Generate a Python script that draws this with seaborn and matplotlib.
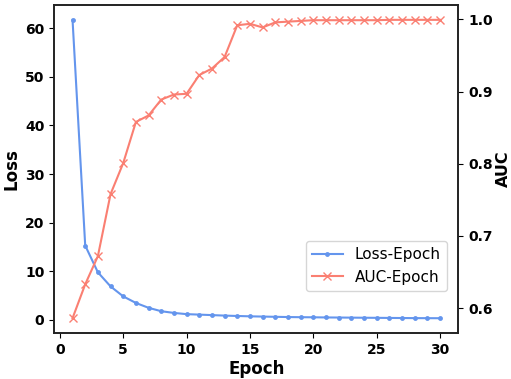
import matplotlib
matplotlib.use("Agg")
import matplotlib.pyplot as plt
import seaborn as sns
import pandas as pd

epochs = list(range(1, 31))
loss = [61.7, 15.3, 9.8, 6.9, 4.85, 3.5, 2.5, 1.8, 1.45, 1.2,
        1.1, 1.0, 0.9, 0.82, 0.75, 0.7, 0.65, 0.6, 0.57, 0.55,
        0.52, 0.5, 0.48, 0.46, 0.44, 0.42, 0.4, 0.38, 0.37, 0.36]
auc = [0.586, 0.633, 0.672, 0.758, 0.801, 0.858, 0.867, 0.889, 0.896, 0.897,
       0.923, 0.932, 0.948, 0.992, 0.994, 0.989, 0.996, 0.997, 0.998, 0.999,
       0.999, 0.999, 0.999, 0.999, 0.999, 0.9995, 0.9995, 0.9995, 0.9995, 0.9995]

df = pd.DataFrame({"Epoch": epochs, "Loss": loss, "AUC": auc})

plt.rcParams["font.family"] = ["DejaVu Sans"]

fig = plt.figure(figsize=(5.11, 3.79), dpi=100)
ax = fig.add_axes([0.106, 0.121, 0.791, 0.866])
ax2 = ax.twinx()

blue = "#6495ED"
red = "#FA7F72"
sns.lineplot(data=df, x="Epoch", y="Loss", ax=ax, color=blue, marker=".", markersize=7,
             markeredgewidth=0, linewidth=1.5, label="Loss-Epoch", legend=False)
sns.lineplot(data=df, x="Epoch", y="AUC", ax=ax2, color=red, marker="x", markersize=6,
             markeredgecolor=red, markeredgewidth=1.0, linewidth=1.5, label="AUC-Epoch", legend=False)

ax.set_xlabel("Epoch", fontsize=12, fontweight="bold", labelpad=2)
ax.set_ylabel("Loss", fontsize=12, fontweight="bold", labelpad=3)
ax2.set_ylabel("AUC", fontsize=11.5, fontweight="bold", labelpad=2)
ax.set_xticks([0, 5, 10, 15, 20, 25, 30])
ax.set_yticks([0, 10, 20, 30, 40, 50, 60])
ax2.set_yticks([0.6, 0.7, 0.8, 0.9, 1.0])
for a in (ax, ax2):
    for lab in a.get_xticklabels() + a.get_yticklabels():
        lab.set_fontweight("bold")
        lab.set_fontsize(10)
    for s in a.spines.values():
        s.set_color("#222222")
        s.set_linewidth(1.2)

h1, l1 = ax.get_legend_handles_labels()
h2, l2 = ax2.get_legend_handles_labels()
ax2.legend(h1 + h2, l1 + l2, loc="lower right", bbox_to_anchor=(0.972, 0.129),
           borderaxespad=0, fontsize=11)

fig.savefig("out.png", dpi=100)
